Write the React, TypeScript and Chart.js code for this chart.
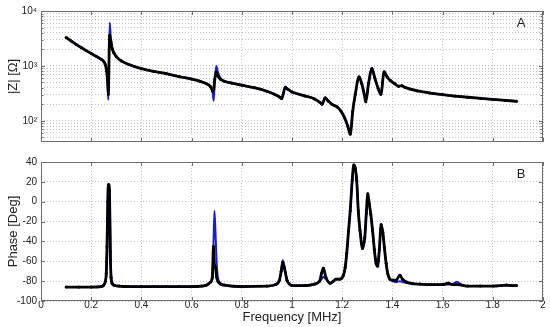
import React, { useEffect, useRef } from "react";
import { Chart, registerables } from "chart.js";
Chart.register(...registerables);

// ---------- DATA ----------
const freqZ = [0.10,0.12,0.14,0.16,0.18,0.20,0.22,0.24,0.25,0.256,0.261,0.265,0.268,0.2735,0.278,0.284,0.29,0.30,0.32,0.35,0.40,0.45,0.50,0.55,0.60,0.63,0.66,0.675,0.684,0.688,0.692,0.698,0.705,0.715,0.73,0.76,0.80,0.85,0.90,0.93,0.95,0.959,0.973,0.985,1.00,1.05,1.09,1.112,1.12,1.132,1.145,1.16,1.18,1.195,1.21,1.222,1.232,1.242,1.252,1.267,1.278,1.288,1.294,1.305,1.318,1.33,1.343,1.354,1.367,1.38,1.392,1.41,1.424,1.437,1.45,1.50,1.55,1.60,1.65,1.70,1.75,1.80,1.85,1.895];
const zModel = [3300,2850,2470,2160,1900,1680,1490,1320,1200,1060,820,520,240,6200,3200,2100,1750,1480,1230,1060,890,790,720,640,575,530,470,420,320,232,520,1000,760,600,530,485,445,400,345,305,270,248,420,375,335,285,250,215,198,265,228,198,178,150,112,80,57,150,300,631,470,300,228,480,900,600,390,303,780,620,540,470,425,432,405,350,320,298,282,268,256,245,235,226];
const zMeasured = [3300,2850,2470,2160,1900,1680,1490,1320,1200,1060,830,560,300,3600,2800,2050,1740,1480,1230,1060,890,790,720,640,575,530,470,420,350,375,560,770,650,570,525,485,445,400,345,305,272,255,400,370,335,285,250,215,200,260,228,198,178,150,112,80,57,150,300,631,470,300,223,480,900,600,390,303,780,620,540,470,425,435,405,350,320,298,282,268,256,245,235,226];

const freqPh = [0.10,0.15,0.20,0.24,0.25,0.256,0.26,0.263,0.266,0.268,0.27,0.273,0.276,0.279,0.283,0.29,0.31,0.35,0.40,0.45,0.50,0.55,0.60,0.64,0.66,0.675,0.683,0.687,0.691,0.695,0.70,0.705,0.715,0.73,0.80,0.90,0.935,0.95,0.957,0.963,0.97,0.98,0.99,1.00,1.05,1.09,1.11,1.118,1.125,1.135,1.152,1.165,1.175,1.19,1.205,1.212,1.218,1.225,1.232,1.24,1.246,1.252,1.258,1.264,1.271,1.281,1.29,1.296,1.302,1.308,1.314,1.321,1.328,1.335,1.341,1.348,1.355,1.362,1.368,1.375,1.381,1.39,1.401,1.415,1.43,1.44,1.457,1.48,1.51,1.55,1.60,1.623,1.64,1.656,1.675,1.70,1.75,1.80,1.855,1.875,1.895];
const phModel = [-86,-86,-86,-85.5,-84,-80.5,-72,-45,0,16,18,8,-30,-72,-81,-84,-85,-85.5,-85.5,-85.5,-85.5,-85.5,-85.5,-85,-84,-81,-72,-45,-9,-30,-62,-77,-82,-84,-85.5,-85,-83.5,-79,-70,-59,-66,-79,-83,-84.5,-84.5,-83,-80,-78,-75.5,-78,-82,-80,-78,-78,-74,-66,-52,-30,-9,22,37,34,21,-9,-29,-47,-36,-12,-1,-4,-13,-29,-48,-62,-65,-48,-23,-31,-46,-62,-72,-78,-80,-81,-80,-81,-82,-82.5,-83,-83.5,-83.5,-83.5,-83,-80.5,-83.5,-85,-85,-85,-84.5,-84.5,-84.5];
const phMeasured = [-86,-86,-86,-85.5,-84,-80.5,-72,-45,0,17,17,10.7,-50,-76,-82,-84,-85,-85.5,-85.5,-85.5,-85.5,-85.5,-85.5,-85,-84,-81,-76,-45,-64,-66,-76,-80,-83,-84,-85.5,-85,-83.5,-79,-70,-61,-67,-79,-83,-84.5,-84.5,-83,-80,-72,-67,-76,-82,-80,-78,-78,-74,-66,-52,-30,-9,22,37,34,21,-9,-29,-47,-36,-12,8,-2,-13,-29,-48,-62,-65,-48,-23,-31,-46,-62,-72,-78,-79,-79,-74,-78,-81,-82.5,-83,-83.5,-83.5,-82,-83.5,-83.5,-84,-85,-85,-85,-84,-84.5,-84.5];

const freqTicks = [0, 0.2, 0.4, 0.6, 0.8, 1, 1.2, 1.4, 1.6, 1.8, 2];
const zLogTicks = [50,60,70,80,90,100,200,300,400,500,600,700,800,900,1000,2000,3000,4000,5000,6000,7000,8000,9000,10000];
const zMajorLabels: Record<number, string> = { 100: "10\u00B2", 1000: "10\u00B3", 10000: "10\u2074" };
const phaseTicks = [-100, -80, -60, -40, -20, 0, 20, 40];

const FONT = "'Liberation Sans', Arial, sans-serif";
const GRID = "#c4c4c4";
const AXIS = "#6e6e6e";

const boxPlugin = (letter: string, minorLog: boolean) => ({
  id: "box" + letter,
  afterDraw(chart: any) {
    const { ctx, chartArea: a, scales } = chart;
    ctx.save();
    ctx.strokeStyle = AXIS;
    ctx.lineWidth = 1;
    ctx.strokeRect(Math.round(a.left) + 0.5, Math.round(a.top) + 0.5, Math.round(a.right - a.left) - 1, Math.round(a.bottom - a.top) - 1);
    ctx.beginPath();
    const xs = scales.x;
    for (const t of xs.ticks) {
      const px = Math.round(xs.getPixelForValue(t.value)) + 0.5;
      ctx.moveTo(px, a.bottom); ctx.lineTo(px, a.bottom - 4);
      ctx.moveTo(px, a.top); ctx.lineTo(px, a.top + 4);
    }
    const ys = scales.y;
    for (const t of ys.ticks) {
      const py = Math.round(ys.getPixelForValue(t.value)) + 0.5;
      const len = minorLog && !zMajorLabels[t.value] ? 2.5 : 4;
      ctx.moveTo(a.left, py); ctx.lineTo(a.left + len, py);
      ctx.moveTo(a.right, py); ctx.lineTo(a.right - len, py);
    }
    ctx.stroke();
    ctx.fillStyle = "#222";
    ctx.font = "13px " + FONT;
    ctx.textAlign = "center";
    ctx.textBaseline = "middle";
    ctx.fillText(letter, 521, a.top + 12);
    ctx.restore();
  },
});

const xScale = (showLabels: boolean) => ({
  type: "linear" as const,
  min: 0,
  max: 2,
  afterBuildTicks: (s: any) => {
    s.ticks = freqTicks.map((v) => ({ value: v }));
  },
  afterFit: (s: any) => { s.height = showLabels ? 26 : 0; },
  grid: { color: GRID, drawTicks: false, lineWidth: 1 },
  border: { display: false, dash: [1, 2] },
  ticks: {
    display: showLabels,
    autoSkip: false,
    maxRotation: 0,
    padding: -2,
    color: "#222",
    font: { family: FONT, size: 10 },
    callback: (v: any) => String(Math.round(v * 10) / 10),
  },
  title: {
    display: showLabels,
    text: "Frequency [MHz]",
    color: "#222",
    font: { family: FONT, size: 13 },
    padding: { top: 0, bottom: 2 },
  },
});

function makeDatasets(freq: number[], model: number[], meas: number[]) {
  return [
    {
      label: "measured",
      data: freq.map((f, i) => ({ x: f, y: meas[i] })),
      borderColor: "#000",
      backgroundColor: "#000",
      borderWidth: 2.8,
      pointRadius: 1.5,
      pointBorderWidth: 0,
      cubicInterpolationMode: "monotone" as const,
      order: 0,
    },
    {
      label: "model",
      data: freq.map((f, i) => ({ x: f, y: model[i] })),
      borderColor: "#1a1adc",
      backgroundColor: "#1a1adc",
      borderWidth: 2,
      pointRadius: 0,
      cubicInterpolationMode: "monotone" as const,
      order: 1,
    },
  ];
}

export default function App() {
  const topRef = useRef<HTMLCanvasElement>(null);
  const botRef = useRef<HTMLCanvasElement>(null);

  useEffect(() => {
    const top = new Chart(topRef.current!, {
      type: "line",
      data: { datasets: makeDatasets(freqZ, zModel, zMeasured) as any },
      options: {
        responsive: false,
        animation: false,
        layout: { padding: { top: 11, right: 7, bottom: 4, left: 0 } },
        plugins: { legend: { display: false }, tooltip: { enabled: false } },
        scales: {
          x: xScale(false) as any,
          y: {
            type: "logarithmic",
            min: 41,
            max: 10000,
            afterBuildTicks: (s: any) => { s.ticks = zLogTicks.map((v) => ({ value: v })); },
            afterFit: (s: any) => { s.width = 41; },
            grid: { color: GRID, drawTicks: false },
            border: { display: false, dash: [1, 2] },
            ticks: {
              autoSkip: false,
              padding: 4,
              color: "#222",
              font: { family: FONT, size: 10 },
              callback: (v: any) => zMajorLabels[v] || "",
            },
            title: {
              display: true,
              text: "|Z| [\u03A9]",
              color: "#222",
              font: { family: FONT, size: 13 },
              padding: { top: 6, bottom: 0 },
            },
          } as any,
        },
      },
      plugins: [boxPlugin("A", true)],
    });
    const bot = new Chart(botRef.current!, {
      type: "line",
      data: { datasets: makeDatasets(freqPh, phModel, phMeasured) as any },
      options: {
        responsive: false,
        animation: false,
        layout: { padding: { top: 9, right: 7, bottom: 0, left: 0 } },
        plugins: { legend: { display: false }, tooltip: { enabled: false } },
        scales: {
          x: xScale(true) as any,
          y: {
            type: "linear",
            min: -100,
            max: 40,
            afterBuildTicks: (s: any) => { s.ticks = phaseTicks.map((v) => ({ value: v })); },
            afterFit: (s: any) => { s.width = 41; },
            grid: { color: GRID, drawTicks: false },
            border: { display: false, dash: [1, 2] },
            ticks: {
              autoSkip: false,
              padding: 4,
              color: "#222",
              font: { family: FONT, size: 10 },
            },
            title: {
              display: true,
              text: "Phase [Deg]",
              color: "#222",
              font: { family: FONT, size: 13 },
              padding: { top: 6, bottom: 0 },
            },
          } as any,
        },
      },
      plugins: [boxPlugin("B", false)],
    });
    return () => { top.destroy(); bot.destroy(); };
  }, []);

  return (
    <div style={{ position: "absolute", left: 0, top: 0, width: 550, height: 327, background: "#fff" }}>
      <canvas ref={topRef} width={550} height={152} style={{ position: "absolute", left: 0, top: 0 }} />
      <canvas ref={botRef} width={550} height={175} style={{ position: "absolute", left: 0, top: 152 }} />
    </div>
  );
}
